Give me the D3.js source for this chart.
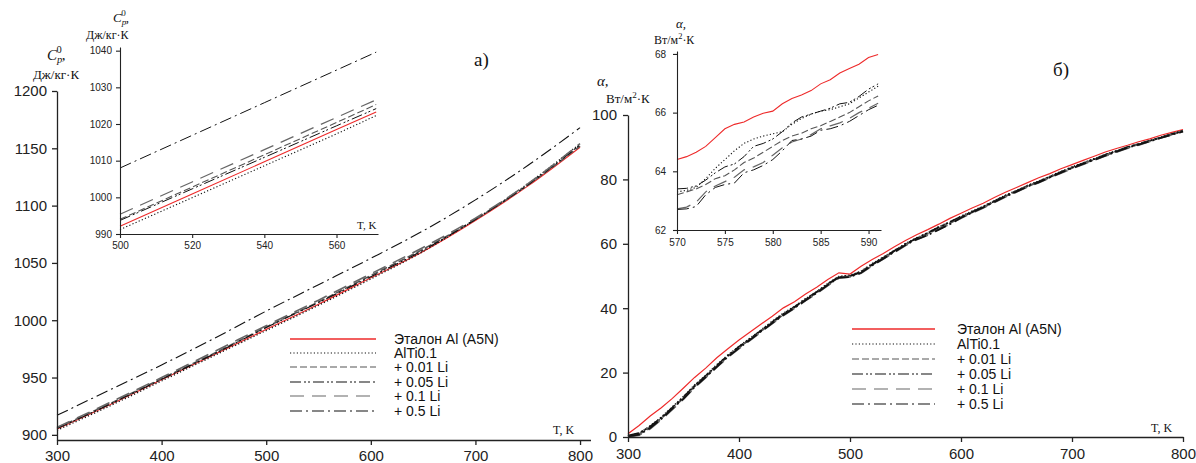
<!DOCTYPE html>
<html><head><meta charset="utf-8">
<script src="https://cdn.jsdelivr.net/npm/d3@7"></script>
<style>body{margin:0;background:#fff} svg{display:block}</style>
</head><body>
<svg id="c" width="1196" height="463"></svg>
<script>
// ---------- shared series ----------
const seriesNames = ["Эталон Al (A5N)", "AlTi0.1", "+ 0.01 Li", "+ 0.05 Li", "+ 0.1 Li", "+ 0.5 Li"];
const seriesColors = ["#ee2a2a", "#111", "#555", "#111", "#666", "#111"];
const seriesDash = [null, "1.2,2.2", "7,3", "11,3,2,2,2,3", "14,8", "12,4,2,4"];

// ---------- panel a: Cp ----------
const tA = [300, 350, 400, 450, 500, 550, 600, 650, 700, 750, 800];
const cpEtalon = [905, 926, 948, 970, 992, 1014, 1037, 1060, 1087, 1117, 1151];
const cpAlTi = [904, 925, 947, 969, 991, 1013, 1036, 1060, 1088, 1119, 1154];
const cpLi001 = [906, 927, 949, 971, 994, 1016, 1039, 1062, 1088, 1118, 1152];
const cpLi005 = [905.5, 926.5, 948.5, 970.5, 993.6, 1015.5, 1038, 1061, 1088, 1118, 1153];
const cpLi01 = [906.5, 928, 950, 972.5, 995.2, 1017.5, 1040.5, 1063.5, 1089, 1119, 1154];
const cpLi05 = [917, 939, 961, 984, 1008, 1031, 1054, 1078, 1105, 1135, 1168];

const tAInset = [500, 520, 540, 560, 571];
const cpEtalonIn = [992.1, 1000.9, 1009.7, 1018.5, 1023.3];
const cpAlTiIn = [991.2, 999.9, 1008.6, 1017.3, 1022.3];
const cpLi001In = [994.0, 1002.8, 1011.6, 1020.4, 1025.3];
const cpLi005In = [993.7, 1002.3, 1010.9, 1019.5, 1024.2];
const cpLi01In = [995.4, 1004.2, 1013.0, 1021.8, 1026.6];
const cpLi05In = [1008.0, 1016.9, 1025.8, 1034.7, 1039.6];

const xTicksA = [300, 400, 500, 600, 700, 800];
const yTicksA = [900, 950, 1000, 1050, 1100, 1150, 1200];
const xTicksAIn = [500, 520, 540, 560];
const yTicksAIn = [990, 1000, 1010, 1020, 1030, 1040];

// ---------- panel b: alpha ----------
const tB = [300, 310, 320, 330, 340, 350, 360, 370, 380, 390, 400, 410, 420, 430, 440, 450, 460, 470, 480, 490,
  500, 510, 520, 530, 540, 550, 560, 570, 580, 590, 600, 610, 620, 630, 640, 650, 660, 670, 680, 690,
  700, 710, 720, 730, 740, 750, 760, 770, 780, 790, 800];
const alEtalon = [1.0, 3.6, 6.5, 9.1, 12.0, 15.2, 18.5, 21.4, 24.6, 27.4, 30.1, 32.6, 35.1, 37.5, 40.1, 42.0, 44.4, 46.5, 48.9, 51.0,
  50.6, 53.0, 55.1, 57.0, 59.1, 61.0, 62.8, 64.4, 66.1, 67.9, 69.5, 71.1, 72.6, 74.4, 76.0, 77.5, 79.0, 80.5, 81.8, 83.3,
  84.6, 85.9, 87.2, 88.5, 89.6, 90.6, 91.7, 92.6, 93.7, 94.6, 95.5];
const alAlTi = [0.3, 1.1, 3.4, 6.1, 9.3, 12.5, 16.1, 19.1, 22.4, 25.4, 28.1, 30.7, 33.2, 35.9, 38.4, 40.5, 42.9, 45.1, 47.6, 49.8,
  50.2, 51.4, 53.8, 55.8, 57.9, 60.0, 61.8, 63.3, 65.3, 66.7, 68.5, 70.1, 71.6, 73.3, 75.0, 76.5, 78.1, 79.4, 80.9, 82.4,
  83.8, 85.1, 86.4, 87.7, 88.9, 90.0, 91.0, 92.0, 93.1, 94.1, 95.1];
const alLi001 = [0.2, 0.9, 3.0, 5.8, 9.0, 12.1, 15.8, 18.8, 22.0, 25.1, 27.8, 30.4, 33.0, 35.5, 38.1, 40.3, 42.6, 44.9, 47.3, 49.6,
  49.9, 51.2, 53.5, 55.6, 57.7, 59.8, 61.6, 63.2, 64.8, 66.4, 68.3, 69.8, 71.4, 73.1, 74.8, 76.3, 77.9, 79.2, 80.7, 82.2,
  83.6, 84.9, 86.2, 87.5, 88.7, 89.9, 90.9, 91.9, 93.0, 94.0, 95.0];
const alLi005 = [0.4, 1.2, 3.3, 6.0, 9.1, 12.4, 15.9, 19.0, 22.2, 25.3, 28.0, 30.5, 33.1, 35.7, 38.2, 40.4, 42.8, 45.0, 47.5, 49.7,
  50.0, 51.3, 53.6, 55.7, 57.8, 59.9, 61.7, 63.4, 65.1, 66.8, 68.4, 69.9, 71.5, 73.2, 74.9, 76.4, 78.0, 79.3, 80.8, 82.3,
  83.7, 85.0, 86.3, 87.6, 88.8, 90.0, 91.0, 92.0, 93.0, 94.1, 95.1];
const alLi01 = [0.1, 0.6, 2.6, 5.4, 8.6, 11.8, 15.4, 18.5, 21.7, 24.8, 27.5, 30.1, 32.7, 35.3, 37.8, 40.0, 42.4, 44.6, 47.1, 49.4,
  49.8, 50.9, 53.2, 55.3, 57.4, 59.5, 61.3, 62.7, 64.5, 66.2, 68.0, 69.6, 71.2, 72.9, 74.6, 76.1, 77.7, 79.0, 80.5, 82.0,
  83.4, 84.7, 86.0, 87.3, 88.5, 89.7, 90.7, 91.8, 92.9, 93.9, 94.9];
const alLi05 = [0.2, 0.7, 2.8, 5.6, 8.8, 11.9, 15.5, 18.6, 21.8, 24.9, 27.6, 30.2, 32.8, 35.4, 37.9, 40.1, 42.5, 44.7, 47.2, 49.5,
  49.7, 51.0, 53.3, 55.4, 57.5, 59.6, 61.4, 62.7, 64.4, 66.1, 68.1, 69.7, 71.3, 73.0, 74.7, 76.2, 77.8, 79.1, 80.6, 82.1,
  83.5, 84.8, 86.1, 87.4, 88.6, 89.8, 90.8, 91.8, 92.9, 93.9, 94.9];

const tBInset = [570, 571, 572, 573, 574, 575, 576, 577, 578, 579, 580, 581, 582, 583, 584, 585, 586, 587, 588, 589, 590, 591];
const alEtalonIn = [64.40, 64.50, 64.65, 64.85, 65.15, 65.45, 65.60, 65.68, 65.85, 65.98, 66.05, 66.30, 66.48, 66.60, 66.75, 66.98, 67.12, 67.35, 67.50, 67.65, 67.88, 67.98];
const alAlTiIn = [63.30, 63.35, 63.45, 63.75, 64.10, 64.40, 64.70, 64.95, 65.10, 65.20, 65.28, 65.35, 65.60, 65.80, 65.95, 66.05, 66.10, 66.20, 66.30, 66.50, 66.70, 66.90];
const alLi001In = [63.20, 63.30, 63.40, 63.55, 63.75, 63.85, 64.05, 64.30, 64.45, 64.65, 64.85, 65.05, 65.20, 65.30, 65.45, 65.55, 65.70, 65.85, 66.00, 66.20, 66.40, 66.57];
const alLi005In = [63.40, 63.42, 63.50, 63.70, 63.95, 64.15, 64.25, 64.50, 64.85, 64.95, 65.10, 65.35, 65.65, 65.85, 65.95, 66.05, 66.15, 66.30, 66.35, 66.55, 66.80, 66.98];
const alLi01In = [62.72, 62.78, 62.95, 63.30, 63.50, 63.65, 63.80, 64.05, 64.15, 64.30, 64.55, 64.80, 65.00, 65.10, 65.25, 65.45, 65.55, 65.65, 65.80, 66.00, 66.15, 66.32];
const alLi05In = [62.70, 62.72, 62.80, 63.20, 63.45, 63.55, 63.60, 63.95, 64.05, 64.20, 64.40, 64.70, 65.05, 65.10, 65.20, 65.40, 65.45, 65.55, 65.70, 65.90, 66.10, 66.25];

const xTicksB = [300, 400, 500, 600, 700, 800];
const yTicksB = [0, 20, 40, 60, 80, 100];
const xTicksBIn = [570, 575, 580, 585, 590];
const yTicksBIn = [62, 64, 66, 68];

// ---------- drawing ----------
const svg = d3.select("#c");
const SANS = "Liberation Sans, Arial, sans-serif";
const SERIF = "Liberation Serif, Times New Roman, serif";

function drawAxes(g, x, y, xt, yt, o) {
  const ax = g.append("g").attr("transform", `translate(0,${o.axisY})`)
    .call(d3.axisBottom(x).tickValues(xt).tickSizeInner(o.tick).tickSizeOuter(0).tickPadding(o.xpad).tickFormat(d3.format("d")));
  const ay = g.append("g").attr("transform", `translate(${o.axisX},0)`)
    .call(d3.axisLeft(y).tickValues(yt).tickSizeInner(o.tick).tickSizeOuter(0).tickPadding(o.ypad).tickFormat(d3.format("d")));
  [ax, ay].forEach(a => {
    a.selectAll("path,line").attr("stroke", "#222").attr("stroke-width", o.sw);
    a.selectAll("text").attr("font-family", SANS).attr("font-size", o.fs).attr("fill", "#222");
  });
}

function drawLines(g, x, y, ts, seriesList, sw, curve) {
  const line = d3.line().x((d, i) => x(ts[i])).y(d => y(d)).curve(curve);
  seriesList.forEach((s, k) => {
    g.append("path").datum(s).attr("d", line).attr("fill", "none")
      .attr("stroke", seriesColors[k]).attr("stroke-width", sw[k])
      .attr("stroke-dasharray", seriesDash[k]);
  });
}

function drawLegend(g, x0, x1, tx, ys, font, fs) {
  seriesNames.forEach((n, k) => {
    g.append("line").attr("x1", x0).attr("x2", x1).attr("y1", ys[k]).attr("y2", ys[k])
      .attr("stroke", seriesColors[k]).attr("stroke-width", k === 0 ? 1.4 : 1.2)
      .attr("stroke-dasharray", seriesDash[k]);
    g.append("text").attr("x", tx).attr("y", ys[k] + 5).attr("font-family", font)
      .attr("font-size", fs).attr("fill", "#111").text(n);
  });
}

function cpTitle(g, x, y, fs) {
  const t = g.append("text").attr("x", x).attr("y", y).attr("font-family", SERIF).attr("font-size", fs).attr("fill", "#111");
  t.append("tspan").attr("font-style", "italic").text("C");
  t.append("tspan").attr("font-style", "italic").attr("font-size", fs * 0.7).attr("dy", fs * 0.2).text("p");
  t.append("tspan").attr("font-size", fs * 0.7).attr("dx", -fs * 0.38).attr("dy", -fs * 0.7).text("0");
  t.append("tspan").attr("dy", fs * 0.5).text(",");
}
function alphaTitle(g, x, y, fs) {
  g.append("text").attr("x", x).attr("y", y).attr("font-family", SERIF).attr("font-size", fs)
    .attr("font-style", "italic").attr("fill", "#111").text("α,");
}
function unitText(g, x, y, fs, main, sup, rest) {
  const t = g.append("text").attr("x", x).attr("y", y).attr("font-family", SERIF).attr("font-size", fs).attr("fill", "#111");
  t.append("tspan").text(main);
  if (sup) {
    t.append("tspan").attr("font-size", fs * 0.7).attr("dy", -fs * 0.4).text(sup);
    t.append("tspan").attr("dy", fs * 0.4).text(rest);
  }
}

// ---- Panel a main ----
{
  const g = svg.append("g");
  const x = d3.scaleLinear().domain([300, 810]).range([57, 590.5]);
  const y = d3.scaleLinear().domain([895.5, 1200]).range([440, 91]);
  drawLines(g, x, y, tA, [cpEtalon, cpAlTi, cpLi001, cpLi005, cpLi01, cpLi05], [1.2, 1.3, 1.6, 1.2, 1.6, 1.1], d3.curveMonotoneX);
  drawAxes(g, x, y, xTicksA, yTicksA, {axisY: 440, axisX: 57, tick: 5, xpad: 5, ypad: 5, fs: 15, sw: 1.3});
  cpTitle(g, 47, 60, 15);
  unitText(g, 33, 79, 13, "Дж/кг·К");
  g.append("text").attr("x", 553).attr("y", 434).attr("font-family", SERIF).attr("font-size", 12).attr("fill", "#111").text("T, K");
  g.append("text").attr("x", 474).attr("y", 66).attr("font-family", SERIF).attr("font-size", 19).attr("fill", "#111").text("a)");
  drawLegend(g, 290, 376, 394, [339, 353, 367, 382, 396, 411], "Liberation Sans Narrow, Arial Narrow, sans-serif", 14);
}
// ---- Panel a inset ----
{
  const g = svg.append("g");
  const x = d3.scaleLinear().domain([500, 571.5]).range([120, 378]);
  const y = d3.scaleLinear().domain([990, 1041]).range([234, 47]);
  drawLines(g, x, y, tAInset, [cpEtalonIn, cpAlTiIn, cpLi001In, cpLi005In, cpLi01In, cpLi05In], [1.1, 1.1, 1.1, 1.0, 1.2, 1.0], d3.curveLinear);
  drawAxes(g, x, y, xTicksAIn, yTicksAIn, {axisY: 234, axisX: 120, tick: 4, xpad: 4, ypad: 4, fs: 10, sw: 1.1});
  cpTitle(g, 113, 22, 13);
  unitText(g, 86, 39, 12, "Дж/кг·К");
  g.append("text").attr("x", 357).attr("y", 229).attr("font-family", SERIF).attr("font-size", 11).attr("fill", "#111").text("T, K");
}
// ---- Panel b main ----
{
  const g = svg.append("g");
  const x = d3.scaleLinear().domain([300, 800]).range([628, 1183]);
  const y = d3.scaleLinear().domain([0, 100]).range([437, 115]);
  drawLines(g, x, y, tB, [alEtalon, alAlTi, alLi001, alLi005, alLi01, alLi05], [1.2, 1.8, 2.0, 1.8, 2.0, 1.8], d3.curveLinear);
  drawAxes(g, x, y, xTicksB, yTicksB, {axisY: 437, axisX: 628, tick: 5, xpad: 6, ypad: 6, fs: 15, sw: 1.3});
  alphaTitle(g, 597, 86, 15);
  unitText(g, 606, 103, 13, "Вт/м", "2", "·К");
  g.append("text").attr("x", 1151).attr("y", 432).attr("font-family", SERIF).attr("font-size", 12).attr("fill", "#111").text("T, K");
  g.append("text").attr("x", 1053).attr("y", 76).attr("font-family", SERIF).attr("font-size", 19).attr("fill", "#111").text("б)");
  drawLegend(g, 852, 935, 957, [329, 344, 359, 374, 389, 404], SANS, 14);
}
// ---- Panel b inset ----
{
  const g = svg.append("g");
  const x = d3.scaleLinear().domain([570, 591.3]).range([677, 881]);
  const y = d3.scaleLinear().domain([62, 68.1]).range([230, 51]);
  drawLines(g, x, y, tBInset, [alEtalonIn, alAlTiIn, alLi001In, alLi005In, alLi01In, alLi05In], [1.1, 1.1, 1.1, 1.0, 1.2, 1.0], d3.curveLinear);
  drawAxes(g, x, y, xTicksBIn, yTicksBIn, {axisY: 230, axisX: 677, tick: 4, xpad: 5, ypad: 7, fs: 10, sw: 1.1});
  alphaTitle(g, 676, 28, 13);
  unitText(g, 654, 44, 12, "Вт/м", "2", "·К");
}
</script>
</body></html>
